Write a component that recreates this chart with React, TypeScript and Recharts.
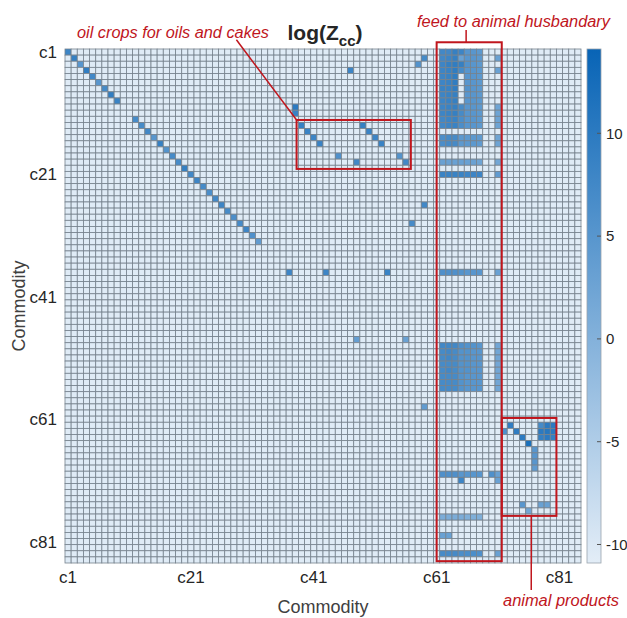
import React from "react";
import { ScatterChart, Scatter, XAxis, YAxis, Label } from "recharts";

// ---- data -------------------------------------------------------------
const N = 84;
const commodityTicks = [1, 21, 41, 61, 81];
const colorbarTicks = [-10, -5, 0, 5, 10];
const colorbarDomain: [number, number] = [-10.9, 14.1];
const emptyValue = -10.5;

// own-use diagonal, c1..c9 and c12..c32
const diagonalA = [8, 9, 5, 9.5, 7.5, 5, 7, 9.5, 8.5];
const diagonalAStart = 1;
const diagonalB = [7, 7, 7.5, 5, 9, 5.5, 7, 7, 9, 7.5, 8, 7, 6.5, 7.5, 8, 7, 6.5, 7, 8, 6, 4];
const diagonalBStart = 12;

// isolated flows [row, col, value]
const scatteredFlows: [number, number, number][] = [
  [2, 59, 7], [3, 58, 5.5], [4, 47, 8], [10, 38, 10], [11, 38, 8.5],
  [13, 39, 9], [14, 40, 8.5], [15, 41, 8], [16, 42, 8.5],
  [13, 49, 9], [14, 50, 8.5], [15, 51, 8], [16, 52, 8.5],
  [18, 45, 6], [19, 48, 7.5], [18, 55, 5.5], [19, 56, 7.5],
  [26, 59, 7.5], [29, 57, 7], [37, 37, 8], [37, 43, 8], [37, 53, 8.5],
  [48, 48, 3.5], [48, 56, 3], [59, 59, 4],
];

// feed to animal husbandry, columns c62..c71
const feedCols = [62, 63, 64, 65, 66, 67, 68, 69, 70, 71];
const feedRows: [number, (number | null)[]][] = [
  [1, [7.5, 7.5, 9, 8, 5, 5, 4.5, null, null, null]],
  [2, [7.5, 8, 9, 3, 5, 5, 4.5, null, null, 3]],
  [3, [8, 9, 9.5, 9, 5.5, 5, 4.5, null, null, null]],
  [4, [8, 8.5, 9.5, 7, 5, 5, 4.5, null, null, 3]],
  [5, [8, 8.5, 9.5, null, 5, 5, 4.5, null, null, null]],
  [6, [8, 8.5, 9.5, null, 5, 5, 4.5, null, null, null]],
  [7, [8.5, 8.5, 9.5, null, 5.5, 5, 4.5, null, null, null]],
  [8, [8, 8.5, 9, null, 5, 5, 4.5, null, null, null]],
  [9, [8, 8.5, 9, null, 5, 5, 4.5, null, null, null]],
  [10, [8, 8.5, 9, 7, 5, 5, 4.5, null, null, 2.5]],
  [11, [8, 8.5, 9, 7, 5, 5, 4.5, null, null, 2.5]],
  [12, [7.5, 8, 8.5, 6.5, 5, 5, 4.5, null, null, 2.5]],
  [13, [7.5, 8, 8.5, 6.5, 5, 5, 4.5, null, null, 2.5]],
  [15, [6.5, 7, 7, 4.5, 4.5, 4.5, 4, null, null, 2.5]],
  [16, [6.5, 7, 7, 4.5, 4.5, 4.5, 4, null, null, 2.5]],
  [19, [3, 3, 3, 3, 3, 3, 2.5, null, null, 2]],
  [21, [8.5, 8.5, 8.5, 8.5, 8, 8, 8, null, null, 4]],
  [37, [6, 6, 6, 5.5, 5, 5, 5, null, null, 3]],
  [49, [7.5, 7.5, 7.5, 6, 5.5, 5.5, 5, null, null, 2]],
  [50, [7, 7.5, 7, 5.5, 5.5, 5, 5, null, null, 2]],
  [51, [7, 7.5, 7, 5.5, 5.5, 5, 5, null, null, 2]],
  [52, [7, 7, 7, 5.5, 5.5, 5, 5, null, null, 2]],
  [53, [7, 7.5, 7, 5.5, 5.5, 5, 5, null, null, 2]],
  [54, [7, 7, 7, 5.5, 5, 5, 5, null, null, 2]],
  [55, [7, 7, 7, 5.5, 5, 5, 5, null, null, 2]],
  [56, [7, 7, 7, 5.5, 5, 5, 5, null, null, 2]],
  [70, [6, 6, 6, 5, 5, 5, 5, null, 6, 3]],
  [71, [null, null, null, 8, null, null, null, null, null, 3]],
  [77, [1, 1, 1, 1, 0.5, 0.5, 0.5, null, null, null]],
  [80, [3, 3, null, null, null, null, null, null, null, null]],
  [83, [7, 7, 7, 6.5, 6.5, 6.5, 6, null, null, 3]],
];

// animal products block [row, col, value]
const animalFlows: [number, number, number][] = [
  [62, 73, 9.5], [63, 72, 6], [63, 74, 9.5], [64, 75, 10], [65, 76, 12],
  [66, 77, 5], [67, 77, 5], [68, 77, 5], [69, 77, 4],
  [62, 78, 7], [62, 79, 10], [62, 80, 10],
  [63, 78, 10], [63, 79, 10.5], [63, 80, 10],
  [64, 78, 9], [64, 79, 10], [64, 80, 9],
  [75, 75, 5], [75, 78, 3], [75, 79, 3], [76, 76, 2],
];

// highlighted regions, in cell units, with their leader lines
const highlightBoxes = [
  { name: "oil", x1: 38.2, x2: 56.8, y1: 12.1, y2: 20.1, leader: [[28.4, -1.0], [38.2, 12.1]] },
  { name: "feed", x1: 61.0, x2: 71.6, y1: -0.6, y2: 84.2, leader: [[65.8, -2.6], [65.8, -0.6]] },
  { name: "animal", x1: 71.6, x2: 80.5, y1: 60.8, y2: 76.8, leader: [[76.4, 76.8], [76.4, 88.9]] },
];

// ---- layout -----------------------------------------------------------
const W = 627;
const H = 618;
const PLOT = { left: 65, top: 49, width: 516, height: 514 };
const cellW = PLOT.width / N;
const cellH = PLOT.height / N;
const CB = { x: 587, y: PLOT.top, w: 14, h: PLOT.height };
const FONT = "'Liberation Sans', Arial, sans-serif";
const RED = "#c0161d";

const LIGHT = [227, 237, 247];
const DARK = [8, 100, 182];

function valueColor(v: number) {
  let t = (v - colorbarDomain[0]) / (colorbarDomain[1] - colorbarDomain[0]);
  t = Math.max(0, Math.min(1, t));
  const c = LIGHT.map((l, i) => Math.round(l + (DARK[i] - l) * t));
  return `rgb(${c[0]},${c[1]},${c[2]})`;
}

function buildCells() {
  const m = new Map<string, number>();
  diagonalA.forEach((v, i) => m.set(`${diagonalAStart + i}-${diagonalAStart + i}`, v));
  diagonalB.forEach((v, i) => m.set(`${diagonalBStart + i}-${diagonalBStart + i}`, v));
  scatteredFlows.forEach(([r, c, v]) => m.set(`${r}-${c}`, v));
  feedRows.forEach(([r, vals]) =>
    vals.forEach((v, i) => {
      if (v !== null) m.set(`${r}-${feedCols[i]}`, v);
    })
  );
  animalFlows.forEach(([r, c, v]) => m.set(`${r}-${c}`, v));

  const cells: { x: number; y: number; v: number }[] = [];
  for (let r = 1; r <= N; r++) {
    for (let c = 1; c <= N; c++) {
      cells.push({ x: c, y: r, v: m.get(`${r}-${c}`) ?? emptyValue });
    }
  }
  return cells;
}

const cells = buildCells();
// anchor each box at its centre so the axis domain is untouched
const boxData = highlightBoxes.map((b) => ({ ...b, x: (b.x1 + b.x2) / 2, y: (b.y1 + b.y2) / 2 }));

function HeatCell(props: any) {
  const { cx, cy, payload } = props;
  return (
    <rect
      x={cx - cellW / 2}
      y={cy - cellH / 2}
      width={cellW}
      height={cellH}
      fill={valueColor(payload.v)}
      stroke="#76828d"
      strokeWidth={0.8}
    />
  );
}

function HighlightBox(props: any) {
  const { cx, cy, payload } = props;
  const px = (x: number) => cx + (x - payload.x) * cellW;
  const py = (y: number) => cy + (y - payload.y) * cellH;
  const [[lx1, ly1], [lx2, ly2]] = payload.leader;
  return (
    <g>
      <rect
        x={px(payload.x1)}
        y={py(payload.y1)}
        width={(payload.x2 - payload.x1) * cellW}
        height={(payload.y2 - payload.y1) * cellH}
        fill="none"
        stroke={RED}
        strokeWidth={2}
      />
      <line x1={px(lx1)} y1={py(ly1)} x2={px(lx2)} y2={py(ly2)} stroke={RED} strokeWidth={1.5} />
    </g>
  );
}

function ColorbarTick(props: any) {
  const { y, payload } = props;
  return (
    <g>
      <line x1={CB.x + CB.w - 4} x2={CB.x + CB.w} y1={y} y2={y} stroke="#555" strokeWidth={1} />
      <text x={CB.x + CB.w + 5} y={y} dy="0.35em" fontSize={15} fill="#262626" fontFamily={FONT}>
        {payload.value}
      </text>
    </g>
  );
}

const XTitle = (props: any) => {
  const vb = props.viewBox;
  return (
    <text x={vb.x + vb.width / 2} y={vb.y + vb.height - 5} textAnchor="middle" fontSize={18} fill="#404040" fontFamily={FONT}>
      Commodity
    </text>
  );
};

const YTitle = (props: any) => {
  const vb = props.viewBox;
  const x = vb.x + 25;
  const y = vb.y + vb.height / 2;
  return (
    <text x={x} y={y} transform={`rotate(-90 ${x} ${y})`} textAnchor="middle" fontSize={18} fill="#404040" fontFamily={FONT}>
      Commodity
    </text>
  );
};

export default function App() {
  return (
    <div style={{ position: "absolute", left: 0, top: 0, width: W, height: H, background: "#fff" }}>
      <svg width={W} height={H} style={{ position: "absolute", left: 0, top: 0 }}>
        <defs>
          <linearGradient id="cbGrad" x1="0" y1="0" x2="0" y2="1">
            <stop offset="0%" stopColor={valueColor(colorbarDomain[1])} />
            <stop offset="100%" stopColor={valueColor(colorbarDomain[0])} />
          </linearGradient>
        </defs>
        <rect x={CB.x} y={CB.y} width={CB.w} height={CB.h} fill="url(#cbGrad)" stroke="#9aa4ad" strokeWidth={0.8} />
        <text x={325} y={40} textAnchor="middle" fontFamily={FONT} fontWeight="bold" fill="#262626">
          <tspan fontSize={21}>log(Z</tspan>
          <tspan fontSize={15} dy={6}>cc</tspan>
          <tspan fontSize={21} dy={-6}>)</tspan>
        </text>
        <text x={77} y={38} fontSize={16} fontStyle="italic" fill={RED} fontFamily={FONT} textLength={192} lengthAdjust="spacingAndGlyphs">
          oil crops for oils and cakes
        </text>
        <text x={417} y={27} fontSize={16} fontStyle="italic" fill={RED} fontFamily={FONT} textLength={193} lengthAdjust="spacingAndGlyphs">
          feed to animal husbandary
        </text>
        <text x={503} y={606} fontSize={16} fontStyle="italic" fill={RED} fontFamily={FONT} textLength={116} lengthAdjust="spacingAndGlyphs">
          animal products
        </text>
      </svg>
      <div style={{ position: "absolute", left: 0, top: 0 }}>
        <ScatterChart width={W} height={H} margin={{ top: PLOT.top, right: 0, bottom: 0, left: 0 }}>
          <XAxis
            type="number"
            dataKey="x"
            domain={[0.5, N + 0.5]}
            ticks={commodityTicks}
            interval={0}
            tickFormatter={(v) => `c${v}`}
            axisLine={false}
            tickLine={false}
            height={H - PLOT.top - PLOT.height}
            tick={{ fontSize: 17, fill: "#262626", fontFamily: FONT }}
          >
            <Label content={XTitle} />
          </XAxis>
          <YAxis
            type="number"
            dataKey="y"
            domain={[0.5, N + 0.5]}
            reversed
            ticks={commodityTicks}
            interval={0}
            tickFormatter={(v) => `c${v}`}
            axisLine={false}
            tickLine={false}
            width={PLOT.left}
            tick={{ fontSize: 17, fill: "#262626", fontFamily: FONT }}
          >
            <Label content={YTitle} />
          </YAxis>
          <YAxis
            yAxisId="cb"
            orientation="right"
            type="number"
            domain={colorbarDomain}
            allowDataOverflow
            ticks={colorbarTicks}
            interval={0}
            axisLine={false}
            tickLine={false}
            width={W - PLOT.left - PLOT.width}
            tick={<ColorbarTick />}
          />
          <Scatter data={cells} shape={HeatCell} isAnimationActive={false} />
          <Scatter data={boxData} shape={HighlightBox} isAnimationActive={false} />
        </ScatterChart>
      </div>
    </div>
  );
}
